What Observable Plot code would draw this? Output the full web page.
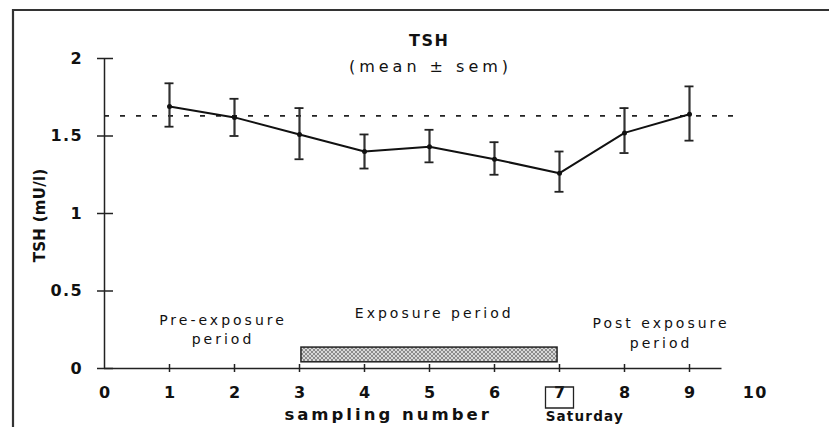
<!DOCTYPE html>
<html>
<head>
<meta charset="utf-8">
<script src="https://cdn.jsdelivr.net/npm/d3@7"></script>
<script src="https://cdn.jsdelivr.net/npm/@observablehq/plot@0.6"></script>
<style>
  html, body { margin: 0; padding: 0; background: #fff; overflow: hidden; }
  #chart svg { display: block; }
  svg text { font-family: "DejaVu Sans", "Liberation Sans", Arial, sans-serif; }
</style>
</head>
<body>
<div id="chart"></div>
<script>
// ---- data ----
const samples = [1, 2, 3, 4, 5, 6, 7, 8, 9];
const means   = [1.69, 1.62, 1.51, 1.40, 1.43, 1.35, 1.26, 1.52, 1.64];
const upper   = [1.84, 1.74, 1.68, 1.51, 1.54, 1.46, 1.40, 1.68, 1.82];
const lower   = [1.56, 1.50, 1.35, 1.29, 1.33, 1.25, 1.14, 1.39, 1.47];
const baseline = 1.63;
const xTickLabels = [0, 1, 2, 3, 4, 5, 6, 7, 8, 9, 10];
const xTickMarks = [1, 2, 3, 4, 5, 6, 7, 8, 9];
const yTicks = [0, 0.5, 1, 1.5, 2];
const exposure = [{x1: 3.03, x2: 6.97, y1: 0.04, y2: 0.135}];
const periodLabels = [
  {x: 1.8, y: 0.31, text: "Pre-exposure"},
  {x: 1.8, y: 0.19, text: "period"},
  {x: 5.05, y: 0.355, text: "Exposure period"},
  {x: 8.54, y: 0.29, text: "Post exposure"},
  {x: 8.54, y: 0.16, text: "period"}
];

const rows = samples.map((s, i) => ({s, m: means[i], hi: upper[i], lo: lower[i]}));

const boxSymbol = { draw(ctx) { ctx.rect(-14, -10.5, 28, 21); } };
const fmt = d => `${d}`;

const plot = Plot.plot({
  width: 829,
  height: 427,
  marginLeft: 104,
  marginRight: 75,
  marginTop: 58,
  marginBottom: 59,
  x: {domain: [0, 10]},
  y: {domain: [0, 2]},
  style: {fontFamily: "DejaVu Sans, Liberation Sans, Arial, sans-serif", background: "#fff"},
  marks: [
    // axes lines
    Plot.ruleX([0], {y1: 0, y2: 2, stroke: "#222", strokeWidth: 1.5}),
    Plot.ruleY([0], {x1: 0, x2: 9.5, stroke: "#222", strokeWidth: 1.5}),
    Plot.axisY(yTicks, {tickSize: 16, dx: 9, text: null, stroke: "#222", strokeWidth: 1.5}),
    Plot.axisY(yTicks, {tickSize: 0, tickPadding: 22, tickFormat: fmt, fontSize: 16, fontWeight: "bold", fill: "#111", label: null}),
    Plot.axisX(xTickMarks, {tickSize: 8, dy: -4, text: null, stroke: "#222", strokeWidth: 1.5}),
    Plot.axisX(xTickLabels, {tickSize: 0, tickPadding: 18, tickFormat: fmt, fontSize: 16, fontWeight: "bold", fill: "#111", label: null}),
    // box around 7 and "Saturday"
    Plot.dot([7], {x: d => d, y: 0, dy: 29, symbol: boxSymbol, r: 5, stroke: "#222", strokeWidth: 1.3, fill: "none"}),
    Plot.text(["Saturday"], {x: 7.38, y: 0, dy: 48, text: d => d, fontSize: 13.5, fontWeight: "bold", fill: "#111"}),
    Plot.text(["sampling number"], {x: 4.34, y: 0, dy: 46, text: d => d, fontSize: 16.5, fontWeight: "bold", fill: "#111"}),
    // y label
    Plot.text(["TSH (mU/l)"], {frameAnchor: "left", dx: -64, dy: 49, rotate: -90, text: d => d, fontSize: 15, fontWeight: "bold", fill: "#111"}),
    // title
    Plot.text(["TSH"], {frameAnchor: "top", dx: -1, dy: -24, text: d => d, fontSize: 16, fontWeight: "bold", fill: "#111"}),
    Plot.text(["(mean \u00b1 sem)"], {frameAnchor: "top", dx: -1, dy: 2, text: d => d, fontSize: 16, fill: "#111"}),
    // exposure bar
    Plot.rect(exposure, {x1: "x1", x2: "x2", y1: "y1", y2: "y2", fill: "url(#hatch)", stroke: "#222", strokeWidth: 1.5}),
    // period labels
    Plot.text(periodLabels, {x: "x", y: "y", text: "text", fontSize: 14, fill: "#111"}),
    // baseline dashed
    Plot.ruleY([baseline], {x1: 0, x2: 9.75, stroke: "#222", strokeWidth: 1.8, strokeDasharray: "5,11"}),
    // error bars
    Plot.ruleX(rows, {x: "s", y1: "lo", y2: "hi", stroke: "#333", strokeWidth: 2.2}),
    Plot.ruleY(rows, {y: "hi", x1: "s", x2: "s", insetLeft: -4.5, insetRight: -4.5, stroke: "#222", strokeWidth: 1.8}),
    Plot.ruleY(rows, {y: "lo", x1: "s", x2: "s", insetLeft: -4.5, insetRight: -4.5, stroke: "#222", strokeWidth: 1.8}),
    // mean line
    Plot.line(rows, {x: "s", y: "m", stroke: "#111", strokeWidth: 2}),
    Plot.dot(rows, {x: "s", y: "m", r: 2.5, fill: "#111"})
  ]
});

const svg = d3.select(plot);
// hatch pattern for the exposure bar
const defs = svg.insert("defs", ":first-child");
const pat = defs.append("pattern").attr("id", "hatch").attr("patternUnits", "userSpaceOnUse")
  .attr("width", 4).attr("height", 4);
pat.append("rect").attr("width", 4).attr("height", 4).attr("fill", "#d8d8d8");
pat.append("path").attr("d", "M0,4 L4,0 M0,0 L4,4").attr("stroke", "#777").attr("stroke-width", 0.8);

// border of the scanned figure (left and top edges)
svg.append("line").attr("x1", 13).attr("x2", 13).attr("y1", 9).attr("y2", 427)
  .attr("stroke", "#333").attr("stroke-width", 2.2);
svg.append("line").attr("x1", 13).attr("x2", 829).attr("y1", 10).attr("y2", 10)
  .attr("stroke", "#333").attr("stroke-width", 2.2);

// wide letter spacing of the scanned lettering
const spacing = {
  "sampling number": 3, "Saturday": 1.2, "TSH": 1.5, "(mean \u00b1 sem)": 4,
  "Pre-exposure": 3, "period": 3, "Exposure period": 3, "Post exposure": 3, "TSH (mU/l)": 0.3
};
svg.selectAll("text").each(function () {
  const t = this.textContent;
  const s = spacing[t] !== undefined ? spacing[t] : (/^[0-9.]+$/.test(t) ? 1.5 : 0);
  if (s) {
    this.setAttribute("letter-spacing", s);
    if (this.getAttribute("text-anchor") === "middle" || !this.getAttribute("text-anchor")) {
      const dx = +(this.getAttribute("dx") || 0);
      this.setAttribute("dx", dx + s / 2);
    }
  }
});

document.getElementById("chart").append(plot);
</script>
</body>
</html>
